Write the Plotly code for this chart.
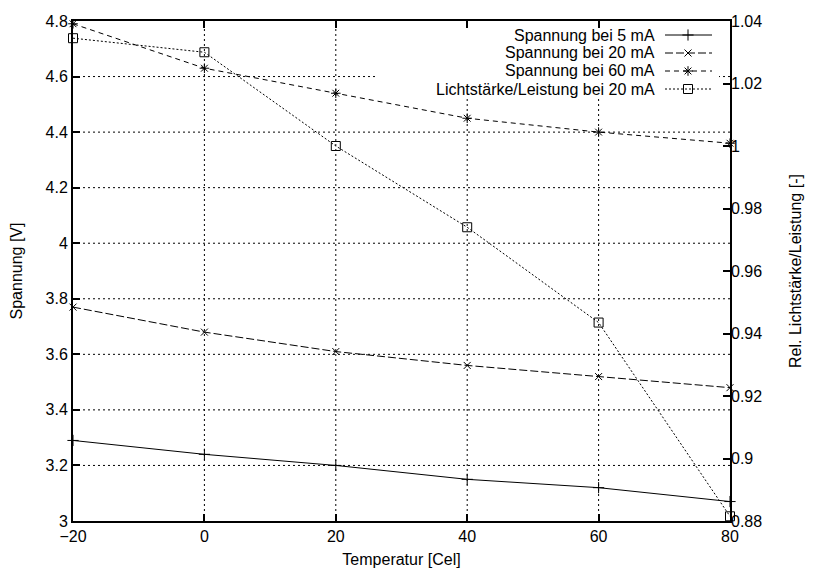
import plotly.graph_objects as go

temperatur = [-20, 0, 20, 40, 60, 80]
spannung_5ma = [3.29, 3.24, 3.20, 3.15, 3.12, 3.07]
spannung_20ma = [3.77, 3.68, 3.61, 3.56, 3.52, 3.48]
spannung_60ma = [4.79, 4.63, 4.54, 4.45, 4.40, 4.36]
licht_20ma = [1.0345, 1.030, 1.000, 0.974, 0.9435, 0.8815]

namen = ["Spannung bei 5 mA", "Spannung bei 20 mA",
         "Spannung bei 60 mA", "Lichtstärke/Leistung bei 20 mA"]

x_gitter = [0, 20, 40, 60]
y_gitter = [3.2, 3.4, 3.6, 3.8, 4.0, 4.2, 4.4, 4.6]

# page offset of the plot div (default body margin)
OFF = 8
W, H = 815 - OFF, 573 - OFF
# plot frame in page pixels
L, R, T, B = 73, 730, 21, 521
font = dict(family="Liberation Sans, Arial, sans-serif", size=16, color="black")

stile = [
    dict(dash="solid", symbol="cross-thin", size=8),
    dict(dash="8px,3px", symbol="x-thin", size=7),
    dict(dash="5px,4px", symbol="asterisk", size=8),
    dict(dash="2px,2px", symbol="square-open", size=9),
]

def px_x(p):
    return (p - L) / (R - L)

def px_y(p):
    return (B - p) / (B - T)

fig = go.Figure()

reihen = [spannung_5ma, spannung_20ma, spannung_60ma, licht_20ma]
for i, (name, werte) in enumerate(zip(namen, reihen)):
    s = stile[i]
    fig.add_trace(go.Scatter(
        x=temperatur, y=werte, name=name, mode="lines+markers",
        yaxis="y2" if i == 3 else "y",
        line=dict(color="black", width=1, dash=s["dash"]),
        marker=dict(symbol=s["symbol"], size=s["size"], color="black",
                    line=dict(color="black", width=1)),
        cliponaxis=False, showlegend=False))

# dotted grid drawn as shapes so the key box can hide it
gitter = dict(color="black", width=1, dash="2px,3px")
for gx in x_gitter:
    fig.add_shape(type="line", xref="x", yref="paper", x0=gx, x1=gx, y0=0, y1=1,
                  line=gitter, layer="below")
for gy in y_gitter:
    fig.add_shape(type="line", xref="paper", yref="y", x0=0, x1=1, y0=gy, y1=gy,
                  line=gitter, layer="below")

# gnuplot style key: text right aligned, sample on the right
zeilen = [35, 53, 71, 89]
fig.add_shape(type="rect", xref="paper", yref="paper",
              x0=px_x(375), x1=px_x(719), y0=px_y(T + 1), y1=px_y(96),
              fillcolor="white", line_width=0, layer="below")
for i, name in enumerate(namen):
    s = stile[i]
    fig.add_annotation(x=px_x(657), y=px_y(zeilen[i]), xref="paper", yref="paper",
                       text=name, showarrow=False, xanchor="right", yanchor="middle",
                       font=font)
    fig.add_shape(type="line", xref="paper", yref="paper",
                  x0=px_x(665), x1=px_x(712), y0=px_y(zeilen[i]), y1=px_y(zeilen[i]),
                  line=dict(color="black", width=1, dash=s["dash"]))
    fig.add_trace(go.Scatter(
        x=[px_x(688)], y=[px_y(zeilen[i])], xaxis="x3", yaxis="y3", mode="markers",
        marker=dict(symbol=s["symbol"], size=s["size"], color="black",
                    line=dict(color="black", width=1)),
        cliponaxis=False, showlegend=False, hoverinfo="skip"))

achse = dict(showline=True, linecolor="black", linewidth=2, ticks="inside",
             ticklen=7, tickwidth=2, tickcolor="black", tickfont=font,
             zeroline=False, showgrid=False, automargin=False)

fig.update_layout(
    width=W, height=H,
    margin=dict(l=L - OFF, r=815 - R, t=T - OFF, b=573 - B),
    paper_bgcolor="white", plot_bgcolor="white",
    font=font,
    xaxis=dict(range=[-20, 80], dtick=20, mirror="ticks",
               title=dict(text="Temperatur [Cel]", font=font, standoff=10), **achse),
    yaxis=dict(range=[3, 4.8], dtick=0.2, mirror=True,
               title=dict(text="Spannung [V]", font=font, standoff=20), **achse),
    yaxis2=dict(range=[0.88, 1.04], dtick=0.02, overlaying="y", side="right",
                showgrid=False, showline=False, ticks="inside", ticklen=7,
                tickwidth=2, tickcolor="black", tickfont=font, zeroline=False,
                automargin=False,
                title=dict(text="Rel. Lichtstärke/Leistung [-]", font=font, standoff=28)),
    xaxis3=dict(range=[0, 1], overlaying="x", visible=False),
    yaxis3=dict(range=[0, 1], overlaying="y", visible=False),
)

fig.write_html("out.html")
